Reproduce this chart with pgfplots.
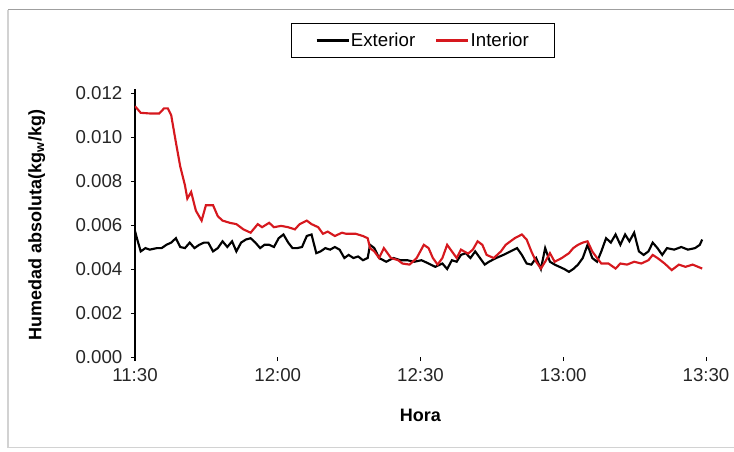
\documentclass[border=0pt]{standalone}
\usepackage{pgfplots}
\pgfplotsset{compat=1.18}
\usepackage{fontspec}
\setmainfont{Liberation Sans}
\definecolor{interiorred}{RGB}{214,24,30}

\pgfplotstableread{
t v
0 0.01140
1.2 0.01110
3.1 0.01107
5.1 0.01107
6.1 0.01130
6.9 0.01130
7.6 0.01100
8.6 0.00975
9.5 0.00867
10.5 0.00780
11.0 0.00720
11.8 0.00750
12.8 0.00665
14.0 0.00620
14.9 0.00690
16.4 0.00690
17.4 0.00640
18.4 0.00620
19.9 0.00610
21.3 0.00604
22.8 0.00580
24.3 0.00565
25.8 0.00604
26.7 0.00590
28.2 0.00610
29.2 0.00590
30.7 0.00596
32.2 0.00590
33.6 0.00580
34.6 0.00604
36.1 0.00620
37.1 0.00604
38.5 0.00590
39.5 0.00560
40.5 0.00570
42.0 0.00550
43.5 0.00565
44.4 0.00560
46.4 0.00560
47.9 0.00550
48.9 0.00540
49.4 0.00495
50.3 0.00480
51.3 0.00450
52.3 0.00495
53.8 0.00450
55.3 0.00440
56.2 0.00425
57.7 0.00420
59.2 0.00450
60.7 0.00510
61.7 0.00495
62.6 0.00450
63.6 0.00420
64.6 0.00450
65.6 0.00510
66.6 0.00480
67.6 0.00450
68.5 0.00488
70.0 0.00470
71.0 0.00488
72.0 0.00526
73.0 0.00510
73.9 0.00464
75.4 0.00450
76.9 0.00480
77.9 0.00510
79.8 0.00540
81.3 0.00557
82.3 0.00534
83.3 0.00480
84.3 0.00433
85.3 0.00402
86.2 0.00433
87.2 0.00472
88.2 0.00433
89.7 0.00450
91.2 0.00472
92.1 0.00495
93.1 0.00510
94.1 0.00520
95.1 0.00526
96.1 0.00480
97.1 0.00450
98.0 0.00425
99.5 0.00425
101.0 0.00402
102.0 0.00425
103.4 0.00420
104.9 0.00433
106.4 0.00425
107.9 0.00440
108.8 0.00464
109.8 0.00450
111.3 0.00425
112.8 0.00395
114.3 0.00420
115.7 0.00410
117.2 0.00420
119.2 0.00402
}\interior

\pgfplotstableread{
t v
0 0.00573
0.4 0.00540
1.2 0.00480
2.2 0.00495
3.1 0.00488
4.6 0.00495
5.6 0.00495
6.6 0.00510
7.6 0.00520
8.6 0.00540
9.5 0.00500
10.5 0.00495
11.5 0.00520
12.5 0.00495
13.5 0.00510
14.5 0.00520
15.4 0.00520
16.4 0.00480
17.4 0.00495
18.4 0.00526
19.4 0.00500
20.4 0.00526
21.3 0.00480
22.3 0.00520
23.3 0.00534
24.3 0.00540
25.3 0.00520
26.3 0.00495
27.2 0.00510
28.2 0.00510
29.2 0.00500
30.2 0.00540
31.2 0.00557
32.2 0.00520
33.1 0.00495
34.1 0.00495
35.1 0.00500
36.1 0.00550
37.1 0.00557
38.1 0.00472
39.0 0.00480
40.0 0.00495
41.0 0.00488
42.0 0.00500
43.0 0.00488
44.0 0.00450
44.9 0.00464
45.9 0.00450
46.9 0.00457
47.9 0.00440
48.9 0.00450
49.4 0.00510
50.3 0.00495
51.3 0.00450
52.8 0.00433
54.3 0.00450
55.8 0.00440
57.2 0.00440
58.7 0.00433
60.2 0.00440
61.7 0.00425
63.1 0.00410
64.6 0.00425
65.6 0.00400
66.6 0.00440
67.6 0.00433
68.5 0.00464
69.5 0.00472
70.5 0.00450
71.5 0.00480
72.5 0.00450
73.5 0.00420
74.4 0.00433
75.9 0.00450
77.4 0.00464
78.9 0.00480
80.3 0.00495
81.3 0.00464
82.3 0.00425
83.3 0.00420
84.3 0.00450
85.3 0.00400
86.2 0.00495
87.2 0.00433
88.2 0.00420
89.2 0.00410
90.2 0.00400
91.2 0.00387
92.1 0.00400
93.1 0.00420
94.1 0.00450
95.1 0.00510
96.1 0.00450
97.1 0.00433
98.0 0.00480
99.0 0.00540
100.0 0.00520
101.0 0.00557
102.0 0.00510
103.0 0.00557
103.9 0.00526
104.9 0.00565
105.9 0.00480
106.9 0.00464
107.9 0.00480
108.8 0.00520
109.8 0.00495
110.8 0.00464
111.8 0.00495
113.3 0.00488
114.8 0.00500
116.2 0.00488
117.7 0.00495
118.7 0.00510
119.2 0.00534
}\exterior

\begin{document}
\begin{tikzpicture}
% page = 734x451 px at 0.75pt per px, axis box lower-left at origin
\useasboundingbox (-101.25pt,-70.5pt) rectangle (449.25pt,267.75pt);
\draw[gray!35, line width=0.8pt] (-95.25pt,-68pt) -- (-95.25pt,260.5pt);
\draw[gray!35, line width=0.8pt] (-95.25pt,-68pt) -- (449.25pt,-68pt);
\draw[gray!75, line width=0.9pt] (-95.25pt,260.5pt) -- (449.25pt,260.5pt);
\begin{axis}[
    scale only axis,
    width=428.25pt, height=198pt,
    xmin=0, xmax=120,
    ymin=0, ymax=0.012,
    scaled y ticks=false,
    axis x line*=bottom,
    axis y line*=left,
    x axis line style={draw=none},
    y axis line style={line width=0.8pt, shorten >=-3pt, shorten <=-3pt},
    xtick={0,30,60,90,120},
    xticklabels={11:30,12:00,12:30,13:00,13:30},
    ytick={0,0.002,0.004,0.006,0.008,0.010,0.012},
    yticklabels={0.000,0.002,0.004,0.006,0.008,0.010,0.012},
    tick align=outside,
    major tick length=3pt,
    tick style={black, line width=0.6pt},
    ticklabel style={font=\fontsize{14}{16}\selectfont, text=black!85},
    xticklabel style={yshift=-2pt},
    yticklabel style={xshift=-3pt},
    xlabel={\bfseries Hora},
    ylabel={\bfseries Humedad absoluta(kg\textsubscript{w}/kg)},
    label style={font=\fontsize{13.5}{16}\selectfont},
    xlabel style={yshift=-14pt},
    ylabel style={yshift=16pt},
    legend columns=2,
    legend style={
        at={(rel axis cs:0.504,1.199)}, anchor=center,
        draw=black, line width=0.7pt,
        font=\fontsize{14}{16}\selectfont,
        inner xsep=18pt, inner ysep=6pt,
        /tikz/every even column/.append style={column sep=14pt},
        nodes={inner sep=1pt},
    },
    legend image code/.code={\draw[#1, line width=1.6pt] (0pt,0pt) -- (24pt,0pt);},
    legend cell align=left,
]
\addplot[black, line width=1.6pt] table[x=t, y=v] {\exterior};
\addlegendentry{Exterior}
\addplot[interiorred, line width=1.6pt] table[x=t, y=v] {\interior};
\addlegendentry{Interior}
\end{axis}
\end{tikzpicture}
\end{document}
